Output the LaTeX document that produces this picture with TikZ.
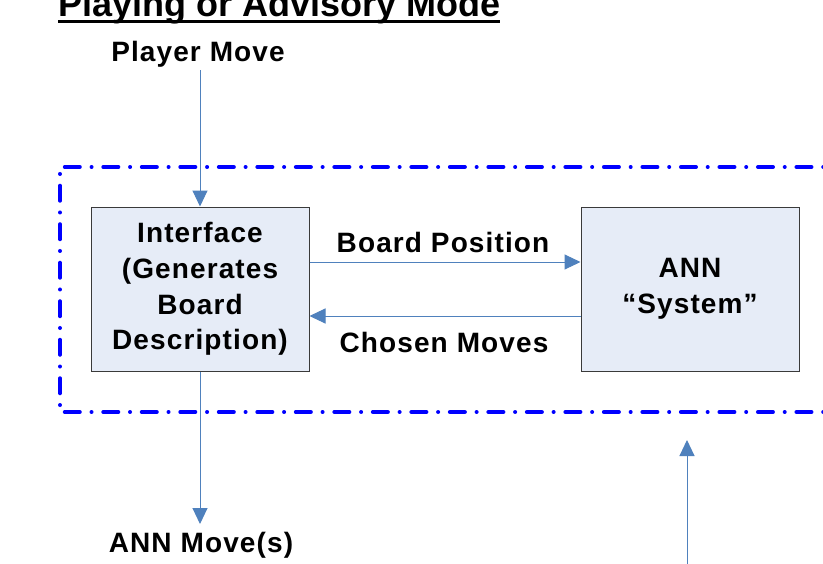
\documentclass[tikz,border=0pt]{standalone}
\usepackage{fontspec}
\setmainfont{Liberation Sans}
\newfontfamily\lblfont[LetterSpace=4]{Liberation Sans}
\usetikzlibrary{arrows.meta}
\definecolor{arrowblue}{HTML}{4F81BD}
\definecolor{boxfill}{HTML}{E6ECF7}
\definecolor{boxline}{HTML}{3A3A3A}
\definecolor{borderblue}{RGB}{0,0,255}
\begin{document}
\begin{tikzpicture}[x=1pt,y=-1pt,
  lbl/.style={font=\lblfont\bfseries\fontsize{28}{35.7}\selectfont, inner sep=0pt, align=center},
  blockbox/.style={draw=boxline, line width=1pt, fill=boxfill, minimum width=218pt, minimum height=164pt,
    inner sep=0pt, align=center, font=\lblfont\bfseries\fontsize{28}{35.7}\selectfont},
  conn/.style={draw=arrowblue, line width=1pt, -{Triangle[length=16pt,width=15pt]}},
  modeborder/.style={draw=borderblue, line width=4pt, line cap=round, line join=round,
    dash pattern=on 15pt off 11.75pt on 0.01pt off 11.75pt}]
\clip (0,0) rectangle (823,563);
\fill[white] (0,0) rectangle (823,563);
% title
\node[anchor=base west, inner sep=0pt, font=\bfseries\fontsize{36}{40}\selectfont] (title) at (58,16) {Playing or Advisory Mode};
\draw[line width=3pt] ([yshift=-5.5pt]title.base west) -- ([yshift=-5.5pt]title.base east);
% border
\draw[modeborder] (850,167) -- (60,167) -- (60,412) -- (850,412);
% boxes
\node[blockbox] (iface) at (200,289) {Interface\\(Generates\\Board\\Description)};
\node[blockbox] (ann) at (690,289) {ANN\\“System”};
% labels
\node[lbl, anchor=base] (pm) at (198,61) {Player Move};
\node[lbl, anchor=base] (bp) at (443,252) {Board Position};
\node[lbl, anchor=base] (cm) at (444,352) {Chosen Moves};
\node[lbl, anchor=base] (am) at (201,552) {ANN Move(s)};
% connectors
\coordinate (pmstart) at (200,70);
\coordinate (amend) at (200,524);
\coordinate (bpy) at (0,262);
\coordinate (cmy) at (0,316);
\coordinate (rsrc) at (687,575);
\coordinate (rtip) at (687,440);
\draw[conn] (pmstart) -- (iface.north);
\draw[conn] (iface.east |- bpy) -- (ann.west |- bpy);
\draw[conn] (ann.west |- cmy) -- (iface.east |- cmy);
\draw[conn] (iface.south) -- (amend);
\draw[conn] (rsrc) -- (rtip);
\end{tikzpicture}
\end{document}
